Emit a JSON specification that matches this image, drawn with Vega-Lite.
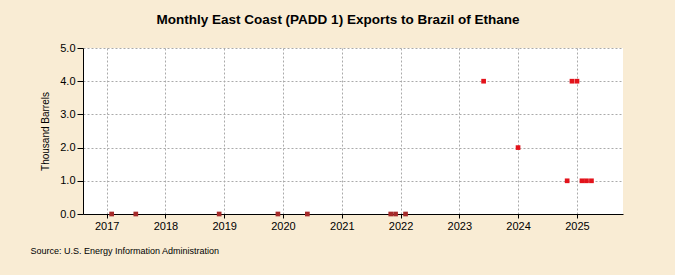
{
  "$schema": "https://vega.github.io/schema/vega-lite/v6.json",
  "width": 540,
  "height": 166,
  "autosize": {"type": "none"},
  "padding": {"left": 83, "top": 48, "right": 52, "bottom": 61},
  "background": "#f9ecd4",
  "title": {
    "text": "Monthly East Coast (PADD 1) Exports to Brazil of Ethane",
    "font": "Liberation Sans Narrow, Liberation Sans, Arial",
    "fontSize": 13.5,
    "fontWeight": "bold",
    "color": "#000000",
    "anchor": "middle",
    "dx": -15,
    "offset": 16
  },
  "config": {
    "view": {"stroke": null, "fill": "#ffffff"},
    "axis": {
      "labelFont": "Liberation Sans, Arial",
      "titleFont": "Liberation Sans, Arial",
      "labelColor": "#000000",
      "titleColor": "#000000",
      "domainColor": "#000000",
      "tickColor": "#000000",
      "gridColor": "#aaaaaa",
      "gridDash": [2, 2],
      "gridWidth": 1
    }
  },
  "data": {
    "values": [
      {"date": "2017-02-01", "value": 0},
      {"date": "2017-07-01", "value": 0},
      {"date": "2018-12-01", "value": 0},
      {"date": "2019-12-01", "value": 0},
      {"date": "2020-06-01", "value": 0},
      {"date": "2021-11-01", "value": 0},
      {"date": "2021-12-01", "value": 0},
      {"date": "2022-02-01", "value": 0},
      {"date": "2023-06-01", "value": 4},
      {"date": "2024-01-01", "value": 2},
      {"date": "2024-11-01", "value": 1},
      {"date": "2024-12-01", "value": 4},
      {"date": "2025-01-01", "value": 4},
      {"date": "2025-02-01", "value": 1},
      {"date": "2025-03-01", "value": 1},
      {"date": "2025-04-01", "value": 1}
    ]
  },
  "mark": {"type": "square", "size": 22, "opacity": 1, "filled": true},
  "encoding": {
    "x": {
      "field": "date",
      "type": "temporal",
      "scale": {"domain": ["2016-08-07", "2025-10-14"]},
      "axis": {
        "title": "Source: U.S. Energy Information Administration",
        "titleAnchor": "start",
        "titleAlign": "left",
        "titleX": -53,
        "titleY": 36,
        "titleBaseline": "middle",
        "titleFontSize": 9,
        "titleFontWeight": "normal",
        "format": "%Y",
        "tickCount": {"interval": "year", "step": 1},
        "labelFontSize": 11,
        "labelPadding": 2,
        "tickSize": 4,
        "grid": true
      }
    },
    "y": {
      "field": "value",
      "type": "quantitative",
      "scale": {"domain": [0, 5]},
      "axis": {
        "title": "Thousand Barrels",
        "titleFontSize": 10,
        "titleFontWeight": "normal",
        "titlePadding": 9,
        "format": ".1f",
        "values": [0, 1, 2, 3, 4, 5],
        "labelFontSize": 11,
        "tickSize": 6,
        "labelPadding": 2,
        "grid": true
      }
    },
    "color": {
      "condition": {"test": "datum.value == 0", "value": "#a52a2a"},
      "value": "#e3131b"
    }
  }
}
